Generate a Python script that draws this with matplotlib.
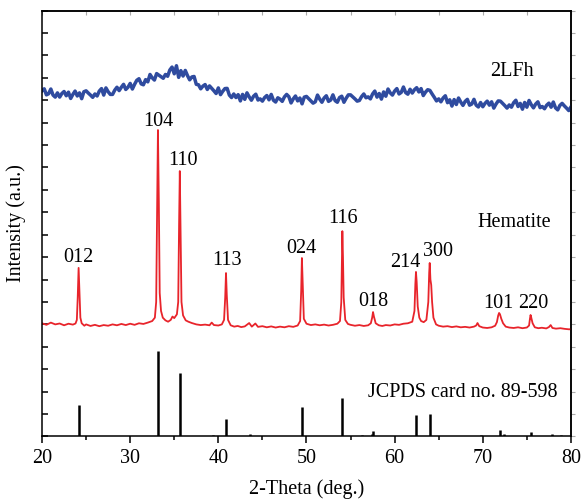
import numpy as np
import matplotlib.pyplot as plt

plt.rcParams['font.family'] = ['Liberation Serif', 'DejaVu Serif']

# ---------------- data ----------------
# 2LFh pattern, one value every 0.25 deg from 20 to 80
lfh_x = np.arange(20, 80.001, 0.25)
lfh_y = [
    1542, 1551, 1524, 1529,  1550, 1523, 1514, 1533,  1514, 1530, 1539, 1520,
    1536, 1508, 1526, 1541,  1519, 1533, 1507, 1538,  1542, 1532, 1523, 1513,
    1528, 1519, 1541, 1552,  1523, 1555, 1538, 1526,  1526, 1545, 1558, 1543,
    1558, 1571, 1548, 1558,  1575, 1550, 1571, 1589,  1596, 1573, 1569, 1592,
    1582, 1615, 1600, 1590,  1619, 1612, 1605, 1598,  1615, 1607, 1635, 1648,
    1618, 1654, 1602, 1632,  1608, 1633, 1610, 1591,  1604, 1606, 1571, 1569,
    1551, 1563, 1570, 1548,  1564, 1553, 1542, 1530,  1555, 1525, 1540, 1552,
    1553, 1523, 1512, 1528,  1512, 1525, 1497, 1526,  1504, 1533, 1515, 1500,
    1518, 1527, 1501, 1506,  1496, 1512, 1521, 1502,  1526, 1500, 1492, 1511,
    1505, 1495, 1515, 1526,  1516, 1488, 1506, 1519,  1497, 1510, 1484, 1514,
    1517, 1507, 1497, 1487,  1493, 1523, 1505, 1491,  1510, 1520, 1495, 1501,
    1524, 1498, 1491, 1512,  1518, 1491, 1509, 1524,  1524, 1515, 1506, 1496,
    1499, 1516, 1528, 1511,  1515, 1506, 1528, 1541,  1514, 1530, 1505, 1537,
    1518, 1550, 1533, 1523,  1541, 1552, 1528, 1535,  1559, 1534, 1527, 1549,
    1532, 1547, 1556, 1537,  1552, 1521, 1536, 1547,  1544, 1528, 1513, 1497,
    1506, 1493, 1510, 1520,  1489, 1502, 1474, 1503,  1481, 1510, 1492, 1477,
    1495, 1504, 1478, 1483,  1504, 1478, 1470, 1490,  1471, 1486, 1496, 1478,
    1493, 1465, 1483, 1497,  1496, 1486, 1476, 1465,  1479, 1469, 1489, 1500,
    1472, 1486, 1460, 1490,  1469, 1499, 1480, 1466,  1483, 1493, 1467, 1472,
    1462, 1478, 1487, 1469,  1492, 1466, 1457, 1477,  1486, 1475, 1465, 1454,
    1470,
]

# Hematite pattern
hem_x = [20.0, 20.5, 21.0, 21.5, 22.0, 22.5, 23.0, 23.5,
         23.8, 23.95, 24.05, 24.15, 24.25, 24.35, 24.5, 24.8,
         25.0, 25.5, 26.0, 26.5, 27.0, 27.5, 28.0, 28.5, 29.0, 29.5,
         30.0, 30.5, 31.0, 31.5, 32.0, 32.5, 32.8,
         32.95, 33.05, 33.15, 33.25, 33.35, 33.5, 33.7, 34.0, 34.3, 34.6,
         34.8, 35.0, 35.3,
         35.45, 35.55, 35.63, 35.72, 35.82, 36.0, 36.3, 36.6, 37.0, 37.5,
         38.0, 38.5, 39.0, 39.25, 39.5, 40.0, 40.4,
         40.65, 40.78, 40.87, 40.96, 41.1, 41.4, 41.8, 42.2, 42.6, 43.0,
         43.5, 43.8, 44.2, 44.5, 45.0, 45.5, 46.0, 46.5, 47.0, 47.5,
         48.0, 48.5, 49.0,
         49.28, 49.4, 49.48, 49.57, 49.7, 50.0, 50.5, 51.0, 51.5, 52.0,
         52.5, 53.0, 53.5, 53.8,
         53.95, 54.02, 54.07, 54.14, 54.22, 54.4, 54.7, 55.0, 55.5, 56.0,
         56.5, 57.0, 57.3,
         57.45, 57.55, 57.65, 57.85, 58.2, 58.6, 59.0, 59.5, 60.0, 60.5,
         61.0, 61.5, 62.0,
         62.25, 62.35, 62.42, 62.5, 62.62, 62.8, 63.0, 63.3, 63.6,
         63.82, 63.92, 63.98, 64.06, 64.15, 64.25, 64.4, 64.7, 65.0, 65.5,
         66.0, 66.5, 67.0, 67.5, 68.0, 68.5, 69.0, 69.25, 69.4, 69.6,
         70.0, 70.5, 71.0, 71.4,
         71.6, 71.75, 71.85, 71.95, 72.1, 72.3, 72.6, 73.0, 73.5, 74.0,
         74.5, 75.0, 75.25,
         75.35, 75.42, 75.5, 75.65, 75.9, 76.3, 76.7, 77.2, 77.5, 77.7,
         77.9, 78.3, 78.8, 79.3, 79.8, 80.0]
hem_y = [505, 498, 508, 500, 504, 496, 503, 499,
         504, 520, 620, 752, 640, 530, 505, 494,
         500, 493, 498, 492, 497, 494, 500, 496, 502, 497,
         503, 498, 505, 502, 508, 515, 530,
         600, 1000, 1367, 1050, 640, 560, 530, 518, 512, 520,
         535, 528, 545,
         600, 950, 1184, 900, 600, 540, 518, 512, 506, 500,
         497, 499, 496, 508, 497, 495, 500,
         520, 620, 729, 630, 520, 496, 490, 493, 488, 491,
         506, 490, 504, 489, 492, 487, 491, 486, 490, 487,
         492, 489, 495,
         515, 650, 796, 680, 525, 503, 497, 500, 496, 499,
         495, 498, 503, 515,
         600, 780, 916, 800, 620, 520, 502, 498, 494, 497,
         493, 496, 505,
         530, 555, 535, 505, 496, 493, 497, 495, 500, 498,
         503, 505, 512,
         560, 680, 734, 690, 580, 530, 515, 510, 520,
         600, 730, 774, 700, 676, 600, 530, 500, 494, 490,
         492, 488, 491, 487, 489, 486, 490, 495, 506, 492,
         486, 484, 487, 494,
         510, 540, 551, 545, 525, 505, 490, 486, 484, 487,
         483, 486, 495,
         525, 542, 530, 505, 487, 483, 485, 482, 488, 497,
         484, 481, 483, 480, 478, 479]

# JCPDS card no. 89-598 reference lines
card_x = [24.14, 33.15, 35.61, 39.35, 40.86, 43.55, 49.47, 54.08, 56.3,
          57.42, 57.6, 62.44, 64.0, 69.8, 72.0, 72.35, 75.45, 77.9, 78.9]
card_h = [140, 381, 283, 8, 78, 9, 132, 172, 6,
          10, 25, 96, 100, 7, 29, 12, 20, 9, 6]

# peak labels: text, x, y (baseline of text)
peak_lbl = ['012', '104', '110', '113', '024', '116', '018', '214', '300', '101', '220']
peak_lx = [24.08, 33.2, 36.0, 40.94, 49.45, 54.16, 57.56, 61.16, 64.93, 71.73, 75.78]
peak_ly = [778, 1384, 1209, 765, 818, 952, 582, 757, 805, 574, 574]

# ---------------- figure ----------------
fig = plt.figure(figsize=(5.82, 5.04), dpi=100)
ax = fig.add_axes([0.0722, 0.134, 0.9088, 0.845])

ax.plot(lfh_x, lfh_y, color='#2f4b9f', lw=2.5)
ax.plot(hem_x, hem_y, color='#e8242b', lw=1.3)
ax.vlines(card_x, 0, card_h, color='black', lw=1.8)

fs = 14.5
for t, x, y in zip(peak_lbl, peak_lx, peak_ly):
    ax.text(x, y, t, ha='center', va='baseline', fontsize=fs)
ax.text(73.25, 1607, '2LFh', ha='center', va='baseline', fontsize=fs)
ax.text(73.6, 936, 'Hematite', ha='center', va='baseline', fontsize=fs)
ax.text(67.7, 177, 'JCPDS card no. 89-598', ha='center', va='baseline', fontsize=fs)

ax.set_xlim(20, 80)
ax.set_ylim(0, 1900)
ax.set_xticks(np.arange(20, 81, 10))
ax.set_xticks(np.arange(25, 80, 10), minor=True)
ax.set_yticks(np.arange(0, 1901, 100))
ax.set_yticklabels([])
ax.tick_params(axis='x', which='major', direction='out', length=5, width=1.1,
               labelsize=fs, pad=4)
ax.tick_params(axis='x', which='minor', direction='out', length=3, width=1.1)
ax.tick_params(axis='y', direction='in', length=4, width=1.1)

top = ax.secondary_xaxis('top')
top.set_xticks(np.arange(20, 81, 5))
top.set_xticklabels([])
top.tick_params(direction='in', length=3, width=0.8, color='#aaaaaa')
right = ax.secondary_yaxis('right')
right.set_yticks(np.arange(0, 1901, 100))
right.set_yticklabels([])
right.tick_params(direction='out', length=3, width=0.8, color='#aaaaaa')

for s in ax.spines.values():
    s.set_linewidth(1.1)
top.spines['top'].set_linewidth(1.1)
right.spines['right'].set_linewidth(1.1)

ax.set_xlabel('2-Theta (deg.)', fontsize=fs, labelpad=8)
ax.set_ylabel('Intensity (a.u.)', fontsize=fs, labelpad=8)

fig.savefig('out.png', dpi=100)
